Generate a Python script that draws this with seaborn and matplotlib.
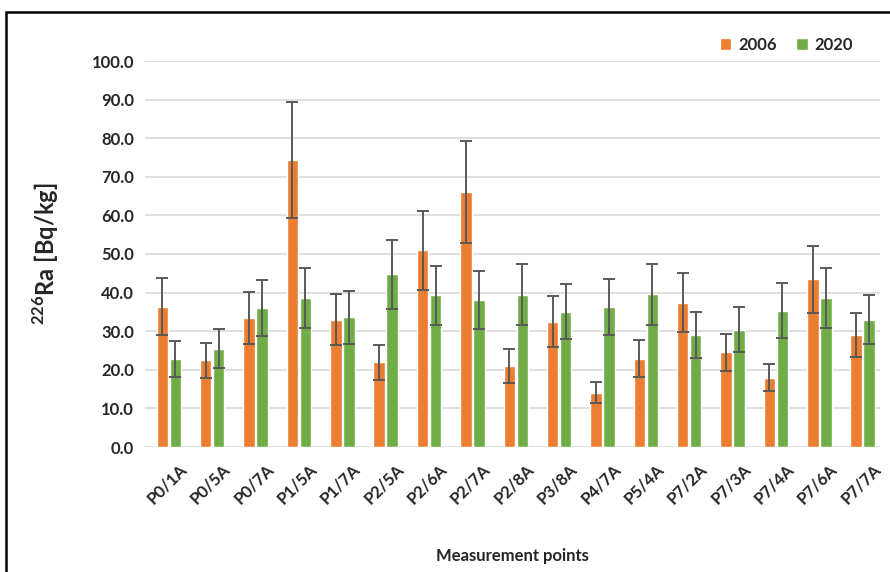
import pandas as pd
import numpy as np
import matplotlib.pyplot as plt
import matplotlib.transforms as mtransforms
import seaborn as sns
from matplotlib.patches import Rectangle

points = ["P0/1A", "P0/5A", "P0/7A", "P1/5A", "P1/7A", "P2/5A", "P2/6A", "P2/7A",
          "P2/8A", "P3/8A", "P4/7A", "P5/4A", "P7/2A", "P7/3A", "P7/4A", "P7/6A", "P7/7A"]
ra_2006 = [36.3, 22.5, 33.5, 74.3, 33.0, 21.9, 51.0, 66.0, 21.0, 32.5, 14.1, 22.9, 37.4, 24.5, 18.0, 43.5, 29.0]
ra_2020 = [22.8, 25.5, 36.0, 38.6, 33.6, 44.7, 39.3, 38.0, 39.5, 35.1, 36.3, 39.6, 29.0, 30.4, 35.3, 38.6, 33.0]
err_2006 = [7.4, 4.5, 6.7, 15.0, 6.6, 4.5, 10.2, 13.2, 4.3, 6.5, 2.8, 4.7, 7.6, 4.8, 3.6, 8.7, 5.7]
err_2020 = [4.7, 5.0, 7.2, 7.9, 6.8, 8.9, 7.7, 7.5, 8.0, 7.1, 7.2, 7.9, 5.9, 5.9, 7.1, 7.7, 6.4]
years = ["2006", "2020"]

df = pd.DataFrame({
    "Point": points * 2,
    "Year": [years[0]] * len(points) + [years[1]] * len(points),
    "Ra": ra_2006 + ra_2020,
    "Err": err_2006 + err_2020,
})

sns.set_style("white")
plt.rcParams['font.family'] = ['Lato', 'DejaVu Sans']
plt.rcParams['mathtext.fontset'] = 'custom'
plt.rcParams['mathtext.bf'] = 'Lato:bold'
plt.rcParams['mathtext.rm'] = 'Lato:bold'

fig = plt.figure(figsize=(8.9, 5.72), dpi=100)
ax = fig.add_axes([145 / 890, 1 - 447 / 572, (880 - 145) / 890, (447 - 61) / 572])

sns.barplot(data=df, x="Point", y="Ra", hue="Year", palette=["#ED7D31", "#70AD47"],
            saturation=1, width=0.6, gap=0.12, errorbar=None, ax=ax, zorder=2)

# error bars at the bar centres
for bars, year in zip(ax.containers, years):
    sub = df[df["Year"] == year]
    xs = [b.get_x() + b.get_width() / 2 for b in bars]
    ax.errorbar(xs, sub["Ra"], yerr=sub["Err"], fmt="none", ecolor="#595959",
                elinewidth=1.4, capsize=4, capthick=1.4, zorder=3)

ax.set_ylim(0, 100)
ax.set_xlim(-0.55, 16.4)
ax.set_yticks(np.arange(0, 101, 10))
ax.set_yticklabels([f"{v:.1f}" for v in np.arange(0, 101, 10)], fontsize=12, fontweight="bold")
ax.yaxis.grid(True, color="#D9D9D9", linewidth=1.2, zorder=0)
ax.set_axisbelow(True)
sns.despine(ax=ax, left=True, bottom=True)
ax.tick_params(axis="both", length=0, pad=8)
shift = mtransforms.ScaledTranslation(7 / 72, -2 / 72, fig.dpi_scale_trans)
for lbl in ax.get_xticklabels():
    lbl.set_transform(lbl.get_transform() + shift)
plt.setp(ax.get_xticklabels(), rotation=45, ha="right", rotation_mode="anchor",
         fontsize=12, fontweight="bold")

ax.set_xlabel("Measurement points", fontsize=12, fontweight="bold", labelpad=30)
ax.set_ylabel(r"$^{\mathbf{226}}$Ra [Bq/kg]", fontsize=17, fontweight="bold", labelpad=22)

ax.legend(loc="lower right", bbox_to_anchor=(0.975, 1.0), ncol=2, frameon=False,
          handlelength=0.7, handleheight=0.7, columnspacing=1.2, handletextpad=0.4,
          prop={"weight": "bold", "size": 12}, borderaxespad=0.1)

fig.patches.append(Rectangle((6 / 890, -0.05), 1.0, 1 - 12 / 572 + 0.05, transform=fig.transFigure,
                             fill=False, edgecolor="black", linewidth=1.8))

plt.savefig("out.png", dpi=100)
